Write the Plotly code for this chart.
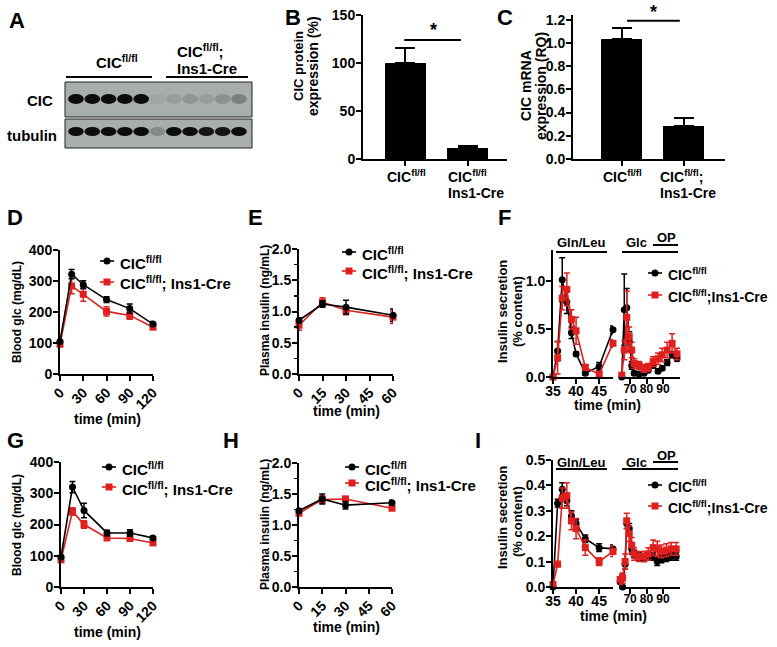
import plotly.graph_objects as go

W, H = 777, 647
FONT = "Liberation Sans, Arial, sans-serif"
RED = "#e01f1f"
BLK = "#000000"

# ---------------- data ----------------
# A: western blot lanes and relative band intensities
LANES = [1, 2, 3, 4, 5, 6, 7, 8, 9, 10, 11]
CIC_BAND = [1.0, 1.0, 1.0, 1.0, 1.0, 0.06, 0.10, 0.16, 0.10, 0.18, 0.28]
TUB_BAND = [1.0, 1.0, 1.0, 1.0, 1.0, 0.22, 1.0, 1.0, 0.95, 0.95, 1.0]

# B: protein
B_val = [100, 11.5]
B_err = [15.5, 2.0]
# C: mRNA
C_val = [1.03, 0.28]
C_err = [0.10, 0.07]

# D: GTT
D_t = [0, 15, 30, 60, 90, 120]
D_wt = [105, 322, 288, 240, 211, 161]
D_wt_err = [5, 15, 13, 9, 15, 8]
D_ko = [96, 284, 257, 202, 189, 151]
D_ko_err = [5, 25, 22, 15, 12, 7]

# E: plasma insulin
E_t = [0, 15, 30, 60]
E_wt = [0.86, 1.12, 1.07, 0.94]
E_wt_err = [0.04, 0.05, 0.11, 0.10]
E_ko = [0.78, 1.15, 1.02, 0.91]
E_ko_err = [0.08, 0.07, 0.07, 0.10]

# F: perifusion
F_tL = [35, 36, 37, 38, 39, 40, 42, 45, 48]
F_wt_L = [0.0, 0.27, 1.01, 0.78, 0.46, 0.24, 0.04, 0.11, 0.49]
F_wt_L_err = [0.01, 0.10, 0.23, 0.12, 0.06, 0.02, 0.02, 0.04, 0.04]
F_ko_L = [0.0, 0.20, 0.82, 0.91, 0.60, 0.48, 0.10, 0.03, 0.35]
F_ko_L_err = [0.01, 0.17, 0.12, 0.17, 0.10, 0.14, 0.03, 0.02, 0.04]
F_tR = [65, 66.5, 68, 69.5, 71, 72.5, 75.5, 78.5, 81, 84, 87, 89.5, 92.5, 95.5, 98.5]
F_wt_R = [0.0, 0.70, 0.72, 0.37, 0.12, 0.04, 0.03, 0.04, 0.07, 0.12, 0.06, 0.09, 0.15, 0.23, 0.19]
F_wt_R_err = [0.01, 0.37, 0.20, 0.10, 0.04, 0.02, 0.01, 0.01, 0.02, 0.03, 0.02, 0.02, 0.03, 0.03, 0.02]
F_ko_R = [0.02, 0.28, 0.62, 0.42, 0.28, 0.14, 0.12, 0.09, 0.10, 0.16, 0.19, 0.23, 0.28, 0.35, 0.24]
F_ko_R_err = [0.02, 0.10, 0.27, 0.10, 0.08, 0.05, 0.04, 0.04, 0.04, 0.05, 0.06, 0.07, 0.08, 0.10, 0.06]

# G: GTT (second cohort)
G_t = [0, 15, 30, 60, 90, 120]
G_wt = [96, 320, 245, 173, 173, 157]
G_wt_err = [5, 18, 23, 9, 10, 7]
G_ko = [87, 242, 200, 157, 155, 141]
G_ko_err = [5, 12, 12, 5, 5, 5]

# H: plasma insulin (second cohort)
H_t = [0, 15, 30, 60]
H_wt = [1.23, 1.42, 1.32, 1.36]
H_wt_err = [0.03, 0.08, 0.06, 0.04]
H_ko = [1.19, 1.41, 1.42, 1.27]
H_ko_err = [0.03, 0.06, 0.04, 0.03]

# I: perifusion (second cohort)
I_tL = [35, 36, 37, 38, 39, 40, 42, 45, 48]
I_wt_L = [0.0, 0.33, 0.385, 0.34, 0.28, 0.25, 0.19, 0.155, 0.15]
I_wt_L_err = [0.003, 0.015, 0.025, 0.02, 0.02, 0.015, 0.015, 0.015, 0.015]
I_ko_L = [0.01, 0.09, 0.35, 0.36, 0.26, 0.23, 0.155, 0.10, 0.14]
I_ko_L_err = [0.01, 0.01, 0.04, 0.05, 0.035, 0.04, 0.03, 0.015, 0.02]
I_tR = [64, 65.5, 67, 68, 69.5, 71, 72.5, 75.5, 78.5, 81, 84, 86.5, 89, 92, 95, 98]
I_wt_R = [0.02, 0.0, 0.09, 0.25, 0.23, 0.15, 0.13, 0.12, 0.115, 0.12, 0.12, 0.10, 0.11, 0.115, 0.12, 0.12]
I_wt_R_err = [0.01, 0.005, 0.02, 0.02, 0.02, 0.02, 0.015, 0.015, 0.015, 0.015, 0.015, 0.015, 0.015, 0.015, 0.015, 0.015]
I_ko_R = [0.03, 0.035, 0.10, 0.26, 0.21, 0.165, 0.13, 0.12, 0.12, 0.13, 0.155, 0.15, 0.14, 0.145, 0.15, 0.15]
I_ko_R_err = [0.02, 0.02, 0.03, 0.03, 0.03, 0.03, 0.025, 0.02, 0.02, 0.025, 0.03, 0.03, 0.025, 0.025, 0.025, 0.025]

WT_NAME = "CIC<sup>fl/fl</sup>"
KO_NAME = "CIC<sup>fl/fl</sup>; Ins1-Cre"
KO_NAME2 = "CIC<sup>fl/fl</sup>;Ins1-Cre"


def px(x):
    return x / W


def py(y):
    return 1 - y / H


fig = go.Figure()
shapes = []
anns = []


def ann(x, y, text, size=14, xanchor="center", yanchor="middle", angle=0):
    anns.append(dict(x=px(x), y=py(y), xref="paper", yref="paper", text=text, showarrow=False,
                     xanchor=xanchor, yanchor=yanchor, textangle=angle,
                     font=dict(size=size, family=FONT, color="black", weight="bold")))


def hline(x0, x1, y, width=2, color="black"):
    shapes.append(dict(type="line", xref="paper", yref="paper", x0=px(x0), x1=px(x1),
                       y0=py(y), y1=py(y), line=dict(color=color, width=width)))


# ---------------- A: blot ----------------
fig.add_trace(go.Scatter(x=LANES, y=[0.5] * len(LANES), mode="markers", marker=dict(opacity=0),
                         xaxis="x", yaxis="y", hoverinfo="skip", showlegend=False))
for (y0, y1) in [(82, 117), (119, 148)]:
    shapes.append(dict(type="rect", xref="paper", yref="paper", x0=px(65), x1=px(252),
                       y0=py(y1), y1=py(y0), fillcolor="#a8aeae", line=dict(color="#222", width=1)))
for lane, a in zip(LANES, CIC_BAND):
    shapes.append(dict(type="circle", xref="x", yref="paper", x0=lane - 0.48, x1=lane + 0.48,
                       y0=py(104), y1=py(94), fillcolor="rgba(12,12,12,%.2f)" % a, line=dict(width=0)))
for lane, a in zip(LANES, TUB_BAND):
    shapes.append(dict(type="circle", xref="x", yref="paper", x0=lane - 0.48, x1=lane + 0.48,
                       y0=py(136), y1=py(127), fillcolor="rgba(12,12,12,%.2f)" % a, line=dict(width=0)))
ann(117, 62, WT_NAME, 15)
ann(175, 50, "CIC<sup>fl/fl</sup>;", 15, xanchor="left")
ann(175, 68, "Ins1-Cre", 15, xanchor="left")
hline(66, 152, 77)
hline(166, 248, 77)
ann(40, 100, "CIC", 15)
ann(32, 135, "tubulin", 15)

# ---------------- bars ----------------
ERRB = dict(type="data", symmetric=False, color="black", thickness=2, width=10)
fig.add_trace(go.Bar(x=[0, 1], y=B_val, width=0.66, marker=dict(color="black", line=dict(width=0)),
                     error_y=dict(ERRB, array=B_err, arrayminus=[0, 0]), xaxis="x2", yaxis="y2", showlegend=False))
fig.add_trace(go.Bar(x=[0, 1], y=C_val, width=0.66, marker=dict(color="black", line=dict(width=0)),
                     error_y=dict(ERRB, array=C_err, arrayminus=[0, 0]), xaxis="x3", yaxis="y3", showlegend=False))


def series(t, y, e, color, symbol, xa, ya):
    fig.add_trace(go.Scatter(x=t, y=y, mode="lines+markers", cliponaxis=False,
                             line=dict(color=color, width=1.6),
                             marker=dict(color=color, symbol=symbol, size=7),
                             error_y=dict(type="data", array=e, color=color, thickness=1.5, width=3),
                             xaxis=xa, yaxis=ya, showlegend=False))


series(D_t, D_ko, D_ko_err, RED, "square", "x4", "y4")
series(D_t, D_wt, D_wt_err, BLK, "circle", "x4", "y4")
series(E_t, E_ko, E_ko_err, RED, "square", "x5", "y5")
series(E_t, E_wt, E_wt_err, BLK, "circle", "x5", "y5")
series(F_tL, F_wt_L, F_wt_L_err, BLK, "circle", "x6", "y6")
series(F_tL, F_ko_L, F_ko_L_err, RED, "square", "x6", "y6")
series(F_tR, F_wt_R, F_wt_R_err, BLK, "circle", "x7", "y7")
series(F_tR, F_ko_R, F_ko_R_err, RED, "square", "x7", "y7")
series(G_t, G_ko, G_ko_err, RED, "square", "x8", "y8")
series(G_t, G_wt, G_wt_err, BLK, "circle", "x8", "y8")
series(H_t, H_ko, H_ko_err, RED, "square", "x9", "y9")
series(H_t, H_wt, H_wt_err, BLK, "circle", "x9", "y9")
series(I_tL, I_wt_L, I_wt_L_err, BLK, "circle", "x10", "y10")
series(I_tL, I_ko_L, I_ko_L_err, RED, "square", "x10", "y10")
series(I_tR, I_wt_R, I_wt_R_err, BLK, "circle", "x11", "y11")
series(I_tR, I_ko_R, I_ko_R_err, RED, "square", "x11", "y11")

# ---------------- axes ----------------
TF = dict(family=FONT, size=14, color="black", weight="bold")
TF_S = dict(family=FONT, size=12, color="black", weight="bold")
BASE = dict(showline=True, linecolor="black", linewidth=2, ticks="outside", ticklen=5, tickwidth=2,
            tickcolor="black", showgrid=False, zeroline=False, tickfont=TF, fixedrange=True,
            automargin=False, ticklabelstandoff=-2)
MINOR = dict(ticks="outside", ticklen=3, tickwidth=1.5, tickcolor="black", dtick=0.25, showgrid=False)


def dom_x(a, b):
    return [px(a), px(b)]


def dom_y(top, bottom):
    return [py(bottom), py(top)]


L = dict(template="none", width=W, height=H, autosize=False, margin=dict(l=0, r=0, t=0, b=0, pad=0),
         paper_bgcolor="white", plot_bgcolor="white",
         font=dict(family=FONT, color="black", weight="bold"), showlegend=False, bargap=0)

L["xaxis"] = dict(domain=dom_x(65, 252), range=[0.325, 11.8], visible=False, fixedrange=True, automargin=False)
L["yaxis"] = dict(domain=dom_y(82, 148), range=[0, 1], visible=False, fixedrange=True, automargin=False)

L["xaxis2"] = dict(BASE, domain=dom_x(363, 507), range=[-0.685, 1.637], tickvals=[0, 1],
                   showticklabels=False, anchor="y2")
L["yaxis2"] = dict(BASE, domain=dom_y(15, 159), range=[0, 150], tickvals=[0, 50, 100, 150], anchor="x2")
L["xaxis3"] = dict(BASE, domain=dom_x(573, 725), range=[-0.782, 1.669], tickvals=[0, 1],
                   showticklabels=False, anchor="y3")
L["yaxis3"] = dict(BASE, domain=dom_y(15, 159), range=[0, 1.24], tickvals=[0, 0.2, 0.4, 0.6, 0.8, 1.0, 1.2],
                   tickformat=".1f", anchor="x3")

L["xaxis4"] = dict(BASE, domain=dom_x(60, 153), range=[0, 120], tickvals=[0, 30, 60, 90, 120], tickangle=-45, anchor="y4")
L["yaxis4"] = dict(BASE, domain=dom_y(250, 374), range=[0, 400], tickvals=[0, 100, 200, 300, 400], anchor="x4")
L["xaxis5"] = dict(BASE, domain=dom_x(299, 393), range=[0, 60], tickvals=[0, 15, 30, 45, 60], tickangle=-45, anchor="y5")
L["yaxis5"] = dict(BASE, domain=dom_y(249, 374), range=[0, 2], tickvals=[0, 0.5, 1, 1.5, 2], tickformat=".1f",
                   anchor="x5", minor=MINOR)
L["xaxis6"] = dict(BASE, domain=dom_x(553, 613), range=[35, 48], tickvals=[35, 40, 45], tickangle=0,
                   ticklabelstandoff=-5, anchor="y6")
L["yaxis6"] = dict(BASE, domain=dom_y(250, 377), range=[0, 1.32], tickvals=[0, 0.5, 1.0], tickformat=".1f", anchor="x6")
L["xaxis7"] = dict(BASE, domain=dom_x(619, 680), range=[63.3, 100.3], tickvals=[70, 80, 90], tickangle=0,
                   tickfont=TF_S, ticklabelstandoff=-5, anchor="y7")
L["yaxis7"] = dict(domain=dom_y(250, 377), range=[0, 1.32], visible=False, anchor="x7", fixedrange=True, automargin=False)

L["xaxis8"] = dict(BASE, domain=dom_x(61, 153), range=[0, 120], tickvals=[0, 30, 60, 90, 120], tickangle=-45, anchor="y8")
L["yaxis8"] = dict(BASE, domain=dom_y(462, 587), range=[0, 400], tickvals=[0, 100, 200, 300, 400], anchor="x8")
L["xaxis9"] = dict(BASE, domain=dom_x(299, 392), range=[0, 60], tickvals=[0, 15, 30, 45, 60], tickangle=-45, anchor="y9")
L["yaxis9"] = dict(BASE, domain=dom_y(463, 587), range=[0, 2], tickvals=[0, 0.5, 1, 1.5, 2], tickformat=".1f",
                   anchor="x9", minor=MINOR)
L["xaxis10"] = dict(BASE, domain=dom_x(553, 613), range=[35, 48], tickvals=[35, 40, 45], tickangle=0,
                    ticklabelstandoff=-5, anchor="y10")
L["yaxis10"] = dict(BASE, domain=dom_y(460, 587), range=[0, 0.5], tickvals=[0, 0.1, 0.2, 0.3, 0.4, 0.5],
                    tickformat=".1f", anchor="x10")
L["xaxis11"] = dict(BASE, domain=dom_x(619, 680), range=[63.3, 100.3], tickvals=[70, 80, 90], tickangle=0,
                    tickfont=TF_S, ticklabelstandoff=-5, anchor="y11")
L["yaxis11"] = dict(domain=dom_y(460, 587), range=[0, 0.5], visible=False, anchor="x11", fixedrange=True, automargin=False)

# ---------------- B / C labels ----------------
ann(293, 18, "B", 22)
ann(298, 66, "CIC protein", 13, angle=-90)
ann(313, 66, "expression (%)", 14, angle=-90)
ann(406, 176, WT_NAME, 14)
ann(446, 176, WT_NAME, 14, xanchor="left")
ann(446, 193, "Ins1-Cre", 14, xanchor="left")
shapes.append(dict(type="line", xref="x2", yref="y2", x0=-0.02, x1=0.895, y0=124, y1=124,
                   line=dict(color="black", width=2)))
ann(433, 30, "*", 18)

ann(505, 18, "C", 22)
ann(526, 86, "CIC mRNA", 14, angle=-90)
ann(541, 86, "expression (RQ)", 14, angle=-90)
ann(622, 176, WT_NAME, 14)
ann(658, 176, "CIC<sup>fl/fl</sup>;", 14, xanchor="left")
ann(658, 193, "Ins1-Cre", 14, xanchor="left")
shapes.append(dict(type="line", xref="x3", yref="y3", x0=0.09, x1=0.94, y0=1.19, y1=1.19,
                   line=dict(color="black", width=2)))
ann(653, 12, "*", 18)

ann(17, 20, "A", 22)


# ---------------- legends ----------------
def legend(x0, y_wt, y_ko, ko_text, size=15):
    for y, color, sym, txt in [(y_wt, BLK, "circle", WT_NAME), (y_ko, RED, "rect", ko_text)]:
        hline(x0, x0 + 14, y, width=1.6, color=color)
        xc = x0 + 7
        r = 3.5
        shapes.append(dict(type=sym, xref="paper", yref="paper", x0=px(xc - r), x1=px(xc + r),
                           y0=py(y + r), y1=py(y - r), fillcolor=color, line=dict(width=0)))
        ann(x0 + 18, y + 1, txt, size, xanchor="left")


legend(100, 261, 282, KO_NAME)
legend(342, 252, 271, KO_NAME)
legend(648, 273, 295, KO_NAME2, 14)
legend(102, 467, 487, KO_NAME)
legend(345, 467, 483, KO_NAME)
legend(648, 485, 506, KO_NAME2, 14)

# ---------------- D-I labels ----------------
for letter, x, y in [("D", 15, 217), ("E", 255, 217), ("F", 505, 217), ("G", 15, 440), ("H", 231, 440), ("I", 478, 440)]:
    ann(x, y, letter, 22)

ann(17, 312, "Blood glc (mg/dL)", 12, angle=-90)
ann(17, 525, "Blood glc (mg/dL)", 12, angle=-90)
ann(265, 311, "Plasma insulin (ng/mL)", 12, angle=-90)
ann(265, 525, "Plasma insulin (ng/mL)", 12, angle=-90)
ann(502, 312, "Insulin secretion", 13, angle=-90)
ann(517, 312, "(% content)", 13, angle=-90)
ann(502, 518, "Insulin secretion", 13, angle=-90)
ann(517, 522, "(% content)", 13, angle=-90)

ann(107, 419, "time (min)", 14)
ann(346, 411, "time (min)", 14)
ann(607, 405, "time (min)", 14)
ann(107, 632, "time (min)", 14)
ann(346, 627, "time (min)", 14)
ann(613, 616, "time (min)", 14)

# stimulus bars
for yb, yop, ytxt, yoptxt in [(252, 245, 243, 238), (469, 462, 462, 455)]:
    ann(581, ytxt, "Gln/Leu", 13)
    hline(556, 607, yb)
    ann(636, ytxt, "Glc", 13)
    ann(666, yoptxt, "OP", 13)
    hline(653, 678, yop)
    hline(622, 678, yb)

L["shapes"] = shapes
L["annotations"] = anns
fig.update_layout(**L)
fig.write_html("out.html", config={"displayModeBar": False, "staticPlot": True},
               post_script="document.body.style.margin='0px';document.body.style.overflow='hidden';")
